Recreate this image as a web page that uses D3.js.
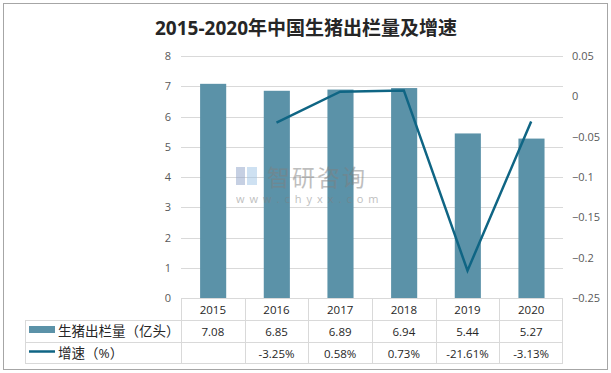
<!DOCTYPE html>
<html>
<head>
<meta charset="utf-8">
<script src="https://cdn.jsdelivr.net/npm/d3@7"></script>
<style>
  body { margin: 0; background: #fff; }
  text { font-family: "Open Sans", "Noto Sans CJK SC", sans-serif; }
</style>
</head>
<body>
<div id="chart"></div>
<script>
// data
var years = ["2015", "2016", "2017", "2018", "2019", "2020"];
var output = [7.08, 6.85, 6.89, 6.94, 5.44, 5.27];
var growth = [null, -0.0325, 0.0058, 0.0073, -0.2161, -0.0313];
var growthLabels = ["", "-3.25%", "0.58%", "0.73%", "-21.61%", "-3.13%"];
var leftTicks = [0, 1, 2, 3, 4, 5, 6, 7, 8];
var rightTicks = [0.05, 0, -0.05, -0.1, -0.15, -0.2, -0.25];
var seriesNames = ["生猪出栏量（亿头）", "增速（%）"];

var W = 611, H = 373;
var barColor = "#5b92a8", lineColor = "#0f6584", gridColor = "#d9d9d9";

var svg = d3.select("#chart").append("svg")
  .attr("width", W).attr("height", H);

// outer frame
svg.append("rect")
  .attr("x", 3.5).attr("y", 3.5)
  .attr("width", 604).attr("height", 366)
  .attr("fill", "#fff").attr("stroke", "#a6a6a6");

// title
svg.append("text")
  .attr("x", 306).attr("y", 35)
  .attr("text-anchor", "middle")
  .attr("font-size", 19).attr("font-weight", "bold")
  .attr("fill", "#262626")
  .text("2015-2020年中国生猪出栏量及增速");

var x = d3.scaleBand().domain(years).range([181, 563]);
var y = d3.scaleLinear().domain([0, 8]).range([298, 56]);
var y2 = d3.scaleLinear().domain([-0.25, 0.05]).range([298, 56]);

// gridlines
svg.append("g").selectAll("line")
  .data(leftTicks.slice(1))
  .enter().append("line")
  .attr("x1", 181).attr("x2", 563)
  .attr("y1", function(d) { return Math.round(y(d)) + 0.5; })
  .attr("y2", function(d) { return Math.round(y(d)) + 0.5; })
  .attr("stroke", gridColor);

// left axis
var leftAxis = svg.append("g")
  .attr("transform", "translate(181,0)")
  .call(d3.axisLeft(y).tickValues(leftTicks).tickSize(0).tickPadding(10));
leftAxis.select(".domain").remove();
leftAxis.selectAll("text").attr("fill", "#595959").attr("font-size", 11)
  .style("font-family", "'Open Sans', sans-serif");

// right axis
var rightAxis = svg.append("g")
  .attr("transform", "translate(563,0)")
  .call(d3.axisRight(y2).tickValues(rightTicks).tickSize(0).tickPadding(9)
    .tickFormat(function(d) { return d3.format("")(+d.toFixed(2)); }));
rightAxis.select(".domain").remove();
rightAxis.selectAll("text").attr("fill", "#595959").attr("font-size", 11)
  .style("font-family", "'Open Sans', sans-serif");

// bars
svg.append("g").selectAll("rect")
  .data(output)
  .enter().append("rect")
  .attr("x", function(d, i) { return x(years[i]) + x.bandwidth() * 0.3; })
  .attr("width", x.bandwidth() * 0.41)
  .attr("y", function(d) { return y(d); })
  .attr("height", function(d) { return y(0) - y(d); })
  .attr("fill", barColor);

// watermark
var wm = svg.append("g").attr("opacity", 0.5);
wm.append("rect").attr("x", 236).attr("y", 167).attr("width", 9).attr("height", 18).attr("fill", "#8fa3c8");
wm.append("rect").attr("x", 247).attr("y", 167).attr("width", 10).attr("height", 18).attr("fill", "#9fc4e6");
wm.append("text").attr("x", 267).attr("y", 186)
  .attr("font-size", 23).attr("fill", "#7f7f7f").attr("letter-spacing", 2)
  .style("font-family", "'Noto Sans CJK SC', sans-serif")
  .text("智研咨询");
wm.append("text").attr("x", 236).attr("y", 203)
  .attr("font-size", 11).attr("fill", "#7f7f7f").attr("letter-spacing", 5)
  .text("www.chyxx.com");

// line
var line = d3.line()
  .defined(function(d) { return d != null; })
  .x(function(d, i) { return x(years[i]) + x.bandwidth() / 2; })
  .y(function(d) { return y2(d); });
svg.append("path")
  .datum(growth)
  .attr("d", line)
  .attr("fill", "none")
  .attr("stroke", lineColor)
  .attr("stroke-width", 2.5);

// data table
var rowY = [298, 320, 342, 363];
var tbl = svg.append("g").attr("stroke", gridColor).attr("shape-rendering", "crispEdges");
tbl.append("line").attr("x1", 181).attr("x2", 563).attr("y1", rowY[0] + 0.5).attr("y2", rowY[0] + 0.5);
[1, 2, 3].forEach(function(r) {
  tbl.append("line").attr("x1", 25).attr("x2", 563)
    .attr("y1", rowY[r] + 0.5).attr("y2", rowY[r] + 0.5);
});
tbl.append("line").attr("x1", 25.5).attr("x2", 25.5).attr("y1", rowY[1]).attr("y2", rowY[3]);
years.forEach(function(yr) {
  tbl.append("line").attr("x1", Math.round(x(yr)) + 0.5).attr("x2", Math.round(x(yr)) + 0.5)
    .attr("y1", rowY[0]).attr("y2", rowY[3]);
});
tbl.append("line").attr("x1", 562.5).attr("x2", 562.5).attr("y1", rowY[0]).attr("y2", rowY[3]);

var cellText = svg.append("g").attr("font-size", 11.5).attr("fill", "#262626").attr("text-anchor", "middle");
years.forEach(function(yr, i) {
  var cx = x(yr) + x.bandwidth() / 2;
  cellText.append("text").attr("x", cx).attr("y", 314).text(yr);
  cellText.append("text").attr("x", cx).attr("y", 336).text(output[i].toFixed(2));
  cellText.append("text").attr("x", cx).attr("y", 358).text(growthLabels[i]);
});

// legend keys in table
svg.append("rect").attr("x", 29).attr("y", 326).attr("width", 26).attr("height", 7).attr("fill", barColor);
svg.append("line").attr("x1", 29).attr("x2", 55).attr("y1", 351.5).attr("y2", 351.5)
  .attr("stroke", lineColor).attr("stroke-width", 2.5);
svg.append("text").attr("x", 58).attr("y", 336).attr("font-size", 13.5).attr("fill", "#262626").text(seriesNames[0]);
svg.append("text").attr("x", 58).attr("y", 358).attr("font-size", 13.5).attr("fill", "#262626").text(seriesNames[1]);
</script>
</body>
</html>
